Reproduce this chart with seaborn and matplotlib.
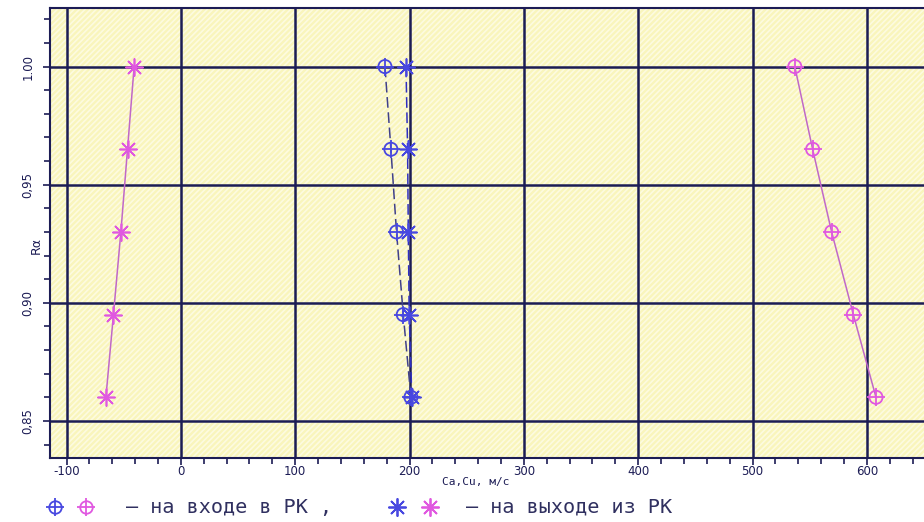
import numpy as np
import pandas as pd
import matplotlib
matplotlib.use("Agg")
import matplotlib.pyplot as plt
from matplotlib.patches import Rectangle
from matplotlib.lines import Line2D
import seaborn as sns

# ---- data ----
r_alpha = [1.00, 0.965, 0.93, 0.895, 0.86]
ca_blue_in = [178.5, 183.7, 188.6, 194.5, 201.2]     # blue ⊕ (на входе)
cu_blue_out = [196.9, 198.3, 198.9, 199.7, 202.0]    # blue ✳ (на выходе)
ca_mag_in = [537.0, 552.6, 569.2, 588.2, 608.0]      # magenta ⊕ (на входе)
cu_mag_out = [-40.9, -46.7, -52.5, -59.0, -65.6]     # magenta ✳ (на выходе)

x_ticks = [-100, 0, 100, 200, 300, 400, 500, 600]
x_ticklabels = ["-100", "0", "100", "200", "300", "400", "500", "600"]
y_ticks = [0.85, 0.90, 0.95, 1.00]
y_ticklabels = ["0,85", "0,90", "0,95", "1.00"]

sns.set_theme(style="white")
plt.rcParams['font.family'] = ['DejaVu Sans']
plt.rcParams['hatch.linewidth'] = 1.2

navy = "#1c1c55"
blue = "#4848e0"
mag = "#e058e0"
mag_line = "#c068c8"

fig = plt.figure(figsize=(9.24, 5.22), dpi=100)
ax = fig.add_axes([50/924, 1-458/522, 874/924, 450/522])
ax.set_facecolor("#f9f5bc")
ax.add_patch(Rectangle((0, 0), 1, 1, transform=ax.transAxes, facecolor="none",
                       edgecolor="#fdfbe0", hatch="//////", lw=0, zorder=0))

df = pd.DataFrame({
    "r": r_alpha * 4,
    "c": ca_blue_in + cu_blue_out + ca_mag_in + cu_mag_out,
    "s": ["bi"] * 5 + ["bo"] * 5 + ["mi"] * 5 + ["mo"] * 5,
})

def draw(key, color, lcolor, ls, marker):
    d = df[df.s == key]
    sns.lineplot(data=d, x="c", y="r", sort=False, estimator=None, ax=ax,
                 color=lcolor, linestyle=ls, lw=1.1, zorder=3)
    if marker == "oplus":
        sns.scatterplot(data=d, x="c", y="r", ax=ax, marker="o", s=90,
                        facecolor="none", edgecolor=color, linewidth=1.3, zorder=4)
        sns.scatterplot(data=d, x="c", y="r", ax=ax, marker="+", s=160,
                        color=color, linewidth=1.3, zorder=4)
    else:
        sns.scatterplot(data=d, x="c", y="r", ax=ax, marker=(8, 2, 0), s=150,
                        color=color, edgecolor=color, linewidth=1.2, zorder=4)

draw("bi", blue, "#40408a", (0, (7, 3)), "oplus")
draw("bo", blue, "#3030c0", (0, (7, 3)), "ast")
draw("mi", mag, mag_line, "-", "oplus")
draw("mo", mag, mag_line, "-", "ast")

ax.set_xlim(-114.5, 650)
ax.set_ylim(0.8343, 1.0248)
ax.set_xticks(x_ticks)
ax.set_xticklabels(x_ticklabels)
ax.set_yticks(y_ticks)
ax.set_yticklabels(y_ticklabels, rotation=90, va="center")
ax.set_xticks(np.arange(-100, 650, 20), minor=True)
ax.set_yticks(np.arange(0.84, 1.025, 0.01), minor=True)
ax.grid(True, which="major", color=navy, lw=1.8, zorder=1)
ax.set_axisbelow(True)
ax.tick_params(axis="both", which="both", direction="out", color=navy,
               labelcolor=navy, labelsize=8.5)
ax.tick_params(axis="both", which="major", length=5, width=1.2, pad=0)
ax.tick_params(axis="both", which="minor", length=4, width=1.2)
ax.tick_params(axis="y", pad=6)
ax.xaxis.set_ticks_position("bottom")
ax.yaxis.set_ticks_position("left")
for side in ["left", "bottom", "top"]:
    ax.spines[side].set_color(navy)
    ax.spines[side].set_linewidth(1.5)
ax.spines["right"].set_visible(False)

ax.set_xlabel("")
ax.set_ylabel("")
fig.text(36/924, 1-245/522, "Rα", rotation=90, ha="center", va="center",
         color=navy, fontsize=9)
fig.text(476/924, 1-482/522, "Ca,Cu, м/с", ha="center", va="center",
         color=navy, fontsize=8, family="DejaVu Sans Mono")

# legend line at the bottom
ly = 1 - 507/522
for xp, c in [(55, blue), (86, mag)]:
    fig.add_artist(Line2D([xp/924], [ly], marker="o", ms=9, mfc="none", mec=c,
                          mew=1.3, transform=fig.transFigure))
    fig.add_artist(Line2D([xp/924], [ly], marker="+", ms=13, color=c,
                          mew=1.3, transform=fig.transFigure))
for xp, c in [(397, blue), (430, mag)]:
    fig.add_artist(Line2D([xp/924], [ly], marker=(8, 2, 0), ms=13, color=c,
                          mew=1.3, transform=fig.transFigure))
fig.text(126/924, ly, "– на входе в РК ,", ha="left", va="center",
         color="#303060", fontsize=14.5, family="DejaVu Sans Mono")
fig.text(466/924, ly, "– на выходе из РК", ha="left", va="center",
         color="#303060", fontsize=14.5, family="DejaVu Sans Mono")

fig.savefig("out.png", dpi=100)
